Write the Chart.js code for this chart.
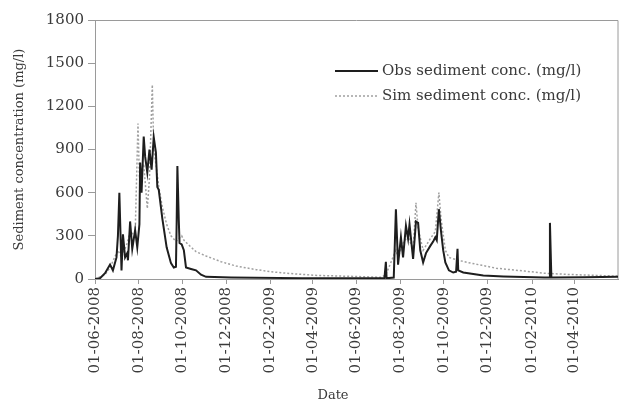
<!DOCTYPE html>
<html>
<head>
<meta charset="utf-8">
<script src="https://cdn.jsdelivr.net/npm/chart.js@4/dist/chart.umd.min.js"></script>
<style>
  html, body { margin: 0; padding: 0; background: #fff; }
  #wrap { position: relative; width: 619px; height: 403px; }
</style>
</head>
<body>
<div id="wrap"><canvas id="sedChart" width="619" height="403"></canvas></div>
<script>
// start of the x axis; all days below are counted from here
const startDate = "01-06-2008";
const tickLabels = ["01-06-2008", "01-08-2008", "01-10-2008", "01-12-2008", "01-02-2009", "01-04-2009",
  "01-06-2009", "01-08-2009", "01-10-2009", "01-12-2009", "01-02-2010", "01-04-2010"];
const yTicks = [0, 300, 600, 900, 1200, 1500, 1800];

// observed (days since start, mg/l)
const obsDay = [0, 7, 14, 21, 25, 30, 32, 34, 37, 39, 42, 45, 46, 49, 52, 56, 59, 62, 63, 65, 68, 70, 73, 76, 79, 82,
  85, 87, 89, 94, 100, 106, 110, 113, 114, 115, 117, 118, 121, 124, 127, 134, 141, 148, 155, 190, 289, 401,
  404, 406, 407, 417, 420, 423, 427, 430, 434, 437, 439, 444, 448, 451, 454, 458, 462, 468, 472, 475, 477,
  480, 483, 486, 489, 494, 500, 504, 506, 507, 514, 542, 570, 627, 634, 635, 637, 683, 730];
const obsVal = [0, 5, 40, 100, 60, 150, 300, 600, 60, 310, 150, 180, 130, 400, 210, 340, 220, 380, 810, 600, 990, 850,
  740, 900, 760, 985, 880, 640, 620, 420, 220, 110, 80, 85, 400, 785, 400, 250, 240, 200, 80, 70, 60, 30, 15, 10,
  6, 5, 5, 120, 5, 10, 485, 100, 290, 150, 370, 280, 380, 140, 400, 390, 200, 115, 180, 230, 260, 290, 270,
  485, 330, 200, 115, 60, 45, 50, 210, 60, 45, 25, 18, 10, 10, 390, 10, 12, 15];

// simulated (days since start, mg/l)
const simDay = [0, 14, 21, 32, 37, 45, 49, 56, 60, 62, 68, 73, 76, 80, 82, 85, 89, 94, 100, 106, 113, 117, 121, 124,
  130, 141, 155, 176, 197, 225, 250, 280, 310, 360, 400, 406, 420, 423, 430, 437, 444, 448, 451, 458, 468, 475,
  480, 483, 489, 494, 507, 520, 540, 560, 600, 627, 660, 700, 730];
const simVal = [0, 30, 80, 200, 150, 250, 330, 300, 1080, 700, 800, 490, 700, 1350, 900, 800, 640, 500, 380, 300, 260,
  280, 300, 270, 240, 190, 160, 120, 90, 65, 48, 35, 25, 18, 12, 30, 200, 150, 250, 300, 200, 530, 350, 200, 280,
  330, 600, 420, 200, 150, 130, 115, 95, 75, 55, 40, 32, 25, 20];

function dayOf(s) {
  const p = s.split("-").map(Number);
  const q = startDate.split("-").map(Number);
  return Math.round((Date.UTC(p[2], p[1] - 1, p[0]) - Date.UTC(q[2], q[1] - 1, q[0])) / 86400000);
}
const tickDays = tickLabels.map(dayOf);

function pairs(xs, ys) {
  return xs.map((x, i) => ({ x: x, y: ys[i] }));
}

const serif = "'DejaVu Serif', 'Liberation Serif', serif";
const axisGrey = "#9a9a9a";
const textGrey = "#3a3a3a";

// legend drawn inside the plot, upper right; plus the "Date" title, which sits left of centre
const insideLegend = {
  id: "insideLegend",
  afterDraw(chart) {
    const ctx = chart.ctx;
    const rows = [
      { text: "Obs sediment conc. (mg/l)", color: "#1e1e1e", width: 2.2, dash: [], y: 71 },
      { text: "Sim sediment conc. (mg/l)", color: "#a0a0a0", width: 1.5, dash: [2, 2], y: 96 },
    ];
    ctx.save();
    ctx.font = "15px " + serif;
    ctx.textBaseline = "middle";
    rows.forEach((r) => {
      ctx.beginPath();
      ctx.setLineDash(r.dash);
      ctx.strokeStyle = r.color;
      ctx.lineWidth = r.width;
      ctx.moveTo(335, r.y);
      ctx.lineTo(378, r.y);
      ctx.stroke();
      ctx.setLineDash([]);
      ctx.fillStyle = textGrey;
      ctx.fillText(r.text, 382, r.y);
    });
    ctx.font = "13px " + serif;
    ctx.textAlign = "center";
    ctx.fillText("Date", 333, 396);
    ctx.restore();
  },
};

// top and right border of the plot frame
const frame = {
  id: "frame",
  beforeDatasetsDraw(chart) {
    const a = chart.chartArea;
    const ctx = chart.ctx;
    ctx.save();
    ctx.strokeStyle = axisGrey;
    ctx.lineWidth = 1;
    ctx.beginPath();
    ctx.moveTo(a.left, a.top + 0.5);
    ctx.lineTo(a.right, a.top + 0.5);
    ctx.lineTo(a.right, a.bottom);
    ctx.stroke();
    ctx.restore();
  },
};

const ctx = document.getElementById("sedChart").getContext("2d");
new Chart(ctx, {
  type: "line",
  data: {
    datasets: [
      {
        label: "Obs sediment conc. (mg/l)",
        data: pairs(obsDay, obsVal),
        borderColor: "#1e1e1e",
        borderWidth: 2,
        pointRadius: 0,
        tension: 0,
      },
      {
        label: "Sim sediment conc. (mg/l)",
        data: pairs(simDay, simVal),
        borderColor: "#a0a0a0",
        borderWidth: 1.5,
        borderDash: [2, 2],
        pointRadius: 0,
        tension: 0,
      },
    ],
  },
  options: {
    responsive: false,
    animation: false,
    layout: { padding: { top: 20, right: 1, left: 0, bottom: 0 } },
    plugins: {
      legend: { display: false },
      tooltip: { enabled: false },
    },
    scales: {
      x: {
        type: "linear",
        min: 0,
        max: 730,
        afterBuildTicks: (scale) => {
          scale.ticks = tickDays.map((d) => ({ value: d }));
        },
        afterFit: (scale) => { scale.height = 124; },
        ticks: {
          autoSkip: false,
          minRotation: 90,
          maxRotation: 90,
          padding: 3,
          color: textGrey,
          font: { family: serif, size: 15 },
          callback: (v, i) => tickLabels[i],
        },
        grid: { drawOnChartArea: false, color: axisGrey, tickLength: 5 },
        border: { color: axisGrey },
      },
      y: {
        min: 0,
        max: 1800,
        afterBuildTicks: (scale) => {
          scale.ticks = yTicks.map((v) => ({ value: v }));
        },
        afterFit: (scale) => { scale.width = 95; },
        ticks: {
          padding: 4,
          color: textGrey,
          font: { family: serif, size: 15 },
          callback: (v) => String(v),
        },
        grid: { drawOnChartArea: false, color: axisGrey, tickLength: 7 },
        border: { color: axisGrey },
        title: {
          display: true,
          text: "Sediment concentration (mg/l)",
          color: textGrey,
          font: { family: serif, size: 13 },
          padding: { top: 12, bottom: 2 },
        },
      },
    },
  },
  plugins: [frame, insideLegend],
});
</script>
</body>
</html>
